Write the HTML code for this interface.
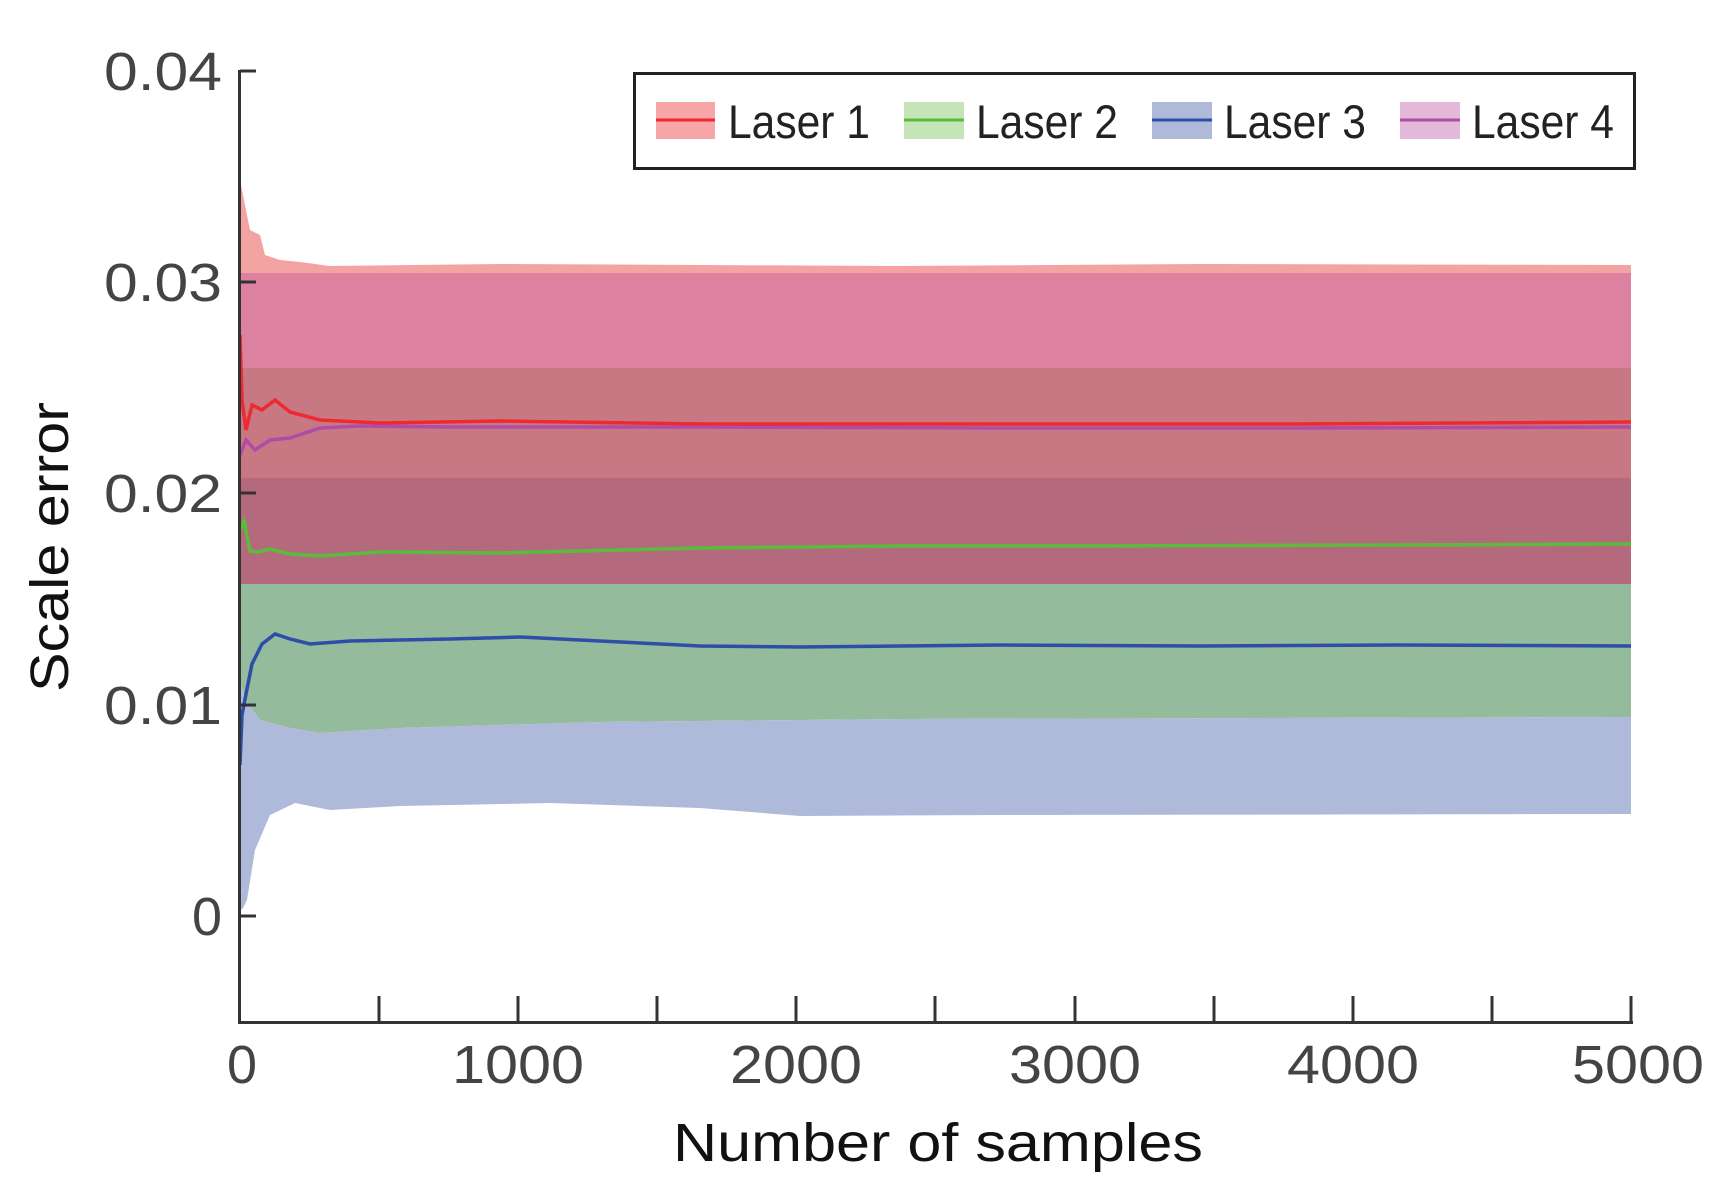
<!DOCTYPE html>
<html><head><meta charset="utf-8"><style>html,body{margin:0;padding:0;background:#fff}svg{display:block}</style></head>
<body>
<svg width="1721" height="1199" viewBox="0 0 1721 1199" xmlns="http://www.w3.org/2000/svg" font-family="Liberation Sans, sans-serif">
<rect width="1721" height="1199" fill="#fff"/>
<polygon fill="#F4A3A3" points="240,180 250,230 260,235 265,255 280,260 300,262 330,266 500,264 900,266 1200,264 1631,265 1631,273 240,273"/>
<rect x="240" y="273" width="1391" height="95" fill="#DC82A0"/>
<rect x="240" y="368" width="1391" height="110" fill="#C87882"/>
<rect x="240" y="478" width="1391" height="106" fill="#B46A7C"/>
<polygon fill="#94BC9C" points="240,584 1631,584 1631,717 900,719 600,722 400,728 320,733 290,728 260,720 245,700 240,680"/>
<polygon fill="#AFB9D9" points="240,680 245,700 260,720 290,728 320,733 400,728 600,722 900,719 1631,717 1631,814 1000,815 800,816 700,808 550,803 400,806 330,810 295,803 270,815 255,850 247,900 242,910 240,905"/>
<polyline fill="none" stroke="#2E4DA8" stroke-width="3.5" points="240,765 242,715 246,694 252,664 262,644 275,634 290,639 310,644 350,641 450,639 520,637 600,641 700,646 800,647 1000,645 1200,646 1400,645 1631,646"/>
<polyline fill="none" stroke="#5DBB3C" stroke-width="3.5" points="240,531 244,521 250,551 258,552 270,549 290,554 320,556 380,552 500,553 700,548 900,546 1100,546 1400,545 1631,544"/>
<polyline fill="none" stroke="#B04CA8" stroke-width="3.5" points="240,455 246,440 255,450 270,440 290,438 320,428 360,426 450,427 700,427 1000,428 1300,428 1631,427"/>
<polyline fill="none" stroke="#EE2A30" stroke-width="3.5" points="240,335 242,400 246,430 252,405 262,410 275,400 290,412 320,420 380,423 500,421 700,424 1000,424 1300,424 1631,422"/>
<g stroke="#333" stroke-width="3" fill="none">
<line x1="239.5" y1="70" x2="239.5" y2="1024"/>
<line x1="238" y1="1022.5" x2="1633" y2="1022.5"/>
<line x1="240" y1="71" x2="256" y2="71"/>
<line x1="240" y1="282" x2="256" y2="282"/>
<line x1="240" y1="493" x2="256" y2="493"/>
<line x1="240" y1="705" x2="256" y2="705"/>
<line x1="240" y1="916" x2="256" y2="916"/>
<line x1="379" y1="1022" x2="379" y2="996"/>
<line x1="518" y1="1022" x2="518" y2="996"/>
<line x1="657" y1="1022" x2="657" y2="996"/>
<line x1="796" y1="1022" x2="796" y2="996"/>
<line x1="935" y1="1022" x2="935" y2="996"/>
<line x1="1075" y1="1022" x2="1075" y2="996"/>
<line x1="1214" y1="1022" x2="1214" y2="996"/>
<line x1="1353" y1="1022" x2="1353" y2="996"/>
<line x1="1492" y1="1022" x2="1492" y2="996"/>
<line x1="1631" y1="1022" x2="1631" y2="996"/>
</g>
<g fill="#444" font-size="54" text-anchor="end">
<text x="222" y="90" textLength="118" lengthAdjust="spacingAndGlyphs">0.04</text>
<text x="222" y="301" textLength="118" lengthAdjust="spacingAndGlyphs">0.03</text>
<text x="222" y="512" textLength="118" lengthAdjust="spacingAndGlyphs">0.02</text>
<text x="222" y="724" textLength="118" lengthAdjust="spacingAndGlyphs">0.01</text>
<text x="222" y="935" textLength="30" lengthAdjust="spacingAndGlyphs">0</text>
</g>
<g fill="#444" font-size="54" text-anchor="middle">
<text x="242" y="1083">0</text>
<text x="518" y="1083" textLength="132" lengthAdjust="spacingAndGlyphs">1000</text>
<text x="796" y="1083" textLength="132" lengthAdjust="spacingAndGlyphs">2000</text>
<text x="1075" y="1083" textLength="132" lengthAdjust="spacingAndGlyphs">3000</text>
<text x="1353" y="1083" textLength="132" lengthAdjust="spacingAndGlyphs">4000</text>
<text x="1638" y="1083" textLength="132" lengthAdjust="spacingAndGlyphs">5000</text>
</g>
<text x="938" y="1161" font-size="54" fill="#111" text-anchor="middle" textLength="530" lengthAdjust="spacingAndGlyphs">Number of samples</text>
<text transform="translate(68,547) rotate(-90)" font-size="54" fill="#111" text-anchor="middle" textLength="290" lengthAdjust="spacingAndGlyphs">Scale error</text>
<rect x="634.5" y="73.5" width="1000" height="95" fill="#fff" stroke="#222" stroke-width="3"/>
<rect x="656" y="102" width="59" height="37" fill="#F7A6A8"/>
<line x1="656" y1="120" x2="715" y2="120" stroke="#EE2A30" stroke-width="3"/>
<rect x="904" y="102" width="60" height="37" fill="#C5E5B8"/>
<line x1="904" y1="120" x2="964" y2="120" stroke="#5DBB3C" stroke-width="3"/>
<rect x="1152" y="102" width="60" height="37" fill="#AFB9D9"/>
<line x1="1152" y1="120" x2="1212" y2="120" stroke="#2E4DA8" stroke-width="3"/>
<rect x="1400" y="102" width="60" height="37" fill="#E3B8D8"/>
<line x1="1400" y1="120" x2="1460" y2="120" stroke="#B04CA8" stroke-width="3"/>
<g fill="#222" font-size="47">
<text x="728" y="138" textLength="142" lengthAdjust="spacingAndGlyphs">Laser 1</text>
<text x="976" y="138" textLength="142" lengthAdjust="spacingAndGlyphs">Laser 2</text>
<text x="1224" y="138" textLength="142" lengthAdjust="spacingAndGlyphs">Laser 3</text>
<text x="1472" y="138" textLength="142" lengthAdjust="spacingAndGlyphs">Laser 4</text>
</g>
</svg>
</body></html>
